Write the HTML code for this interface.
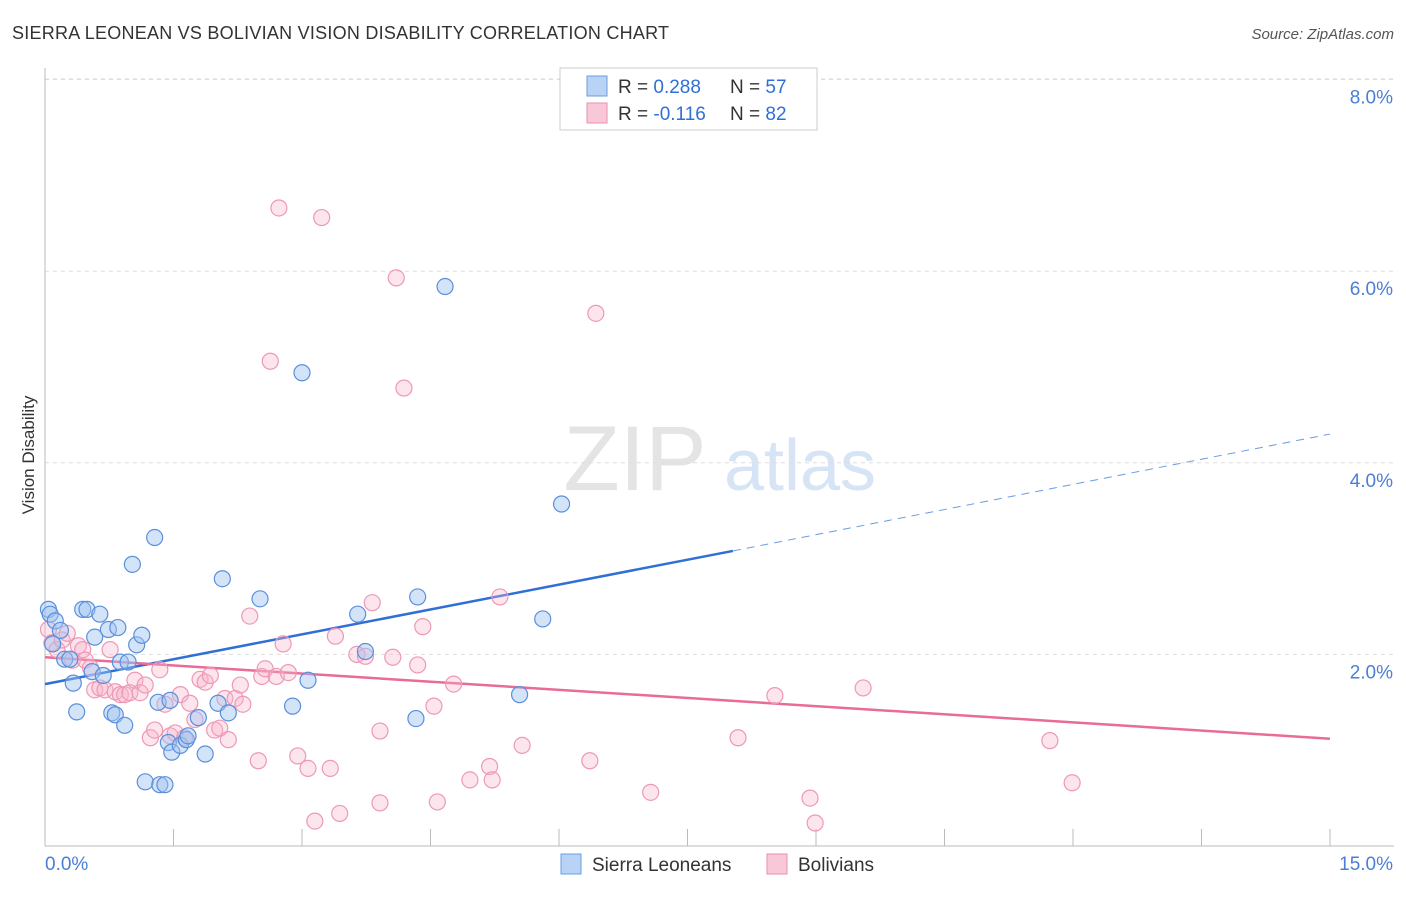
<!DOCTYPE html>
<html><head><meta charset="utf-8"><style>
body{margin:0;background:#fff;font-family:"Liberation Sans",sans-serif;}
svg text{font-family:"Liberation Sans",sans-serif;}
</style></head><body>
<svg id="chart" width="1406" height="892" viewBox="0 0 1406 892">
<text x="12" y="39" font-size="18" fill="#333" textLength="657" lengthAdjust="spacing">SIERRA LEONEAN VS BOLIVIAN VISION DISABILITY CORRELATION CHART</text>
<text x="1394" y="39" font-size="15" fill="#555" font-style="italic" text-anchor="end">Source: ZipAtlas.com</text>
<text x="34" y="455" font-size="17" fill="#333" text-anchor="middle" transform="rotate(-90 34 455)">Vision Disability</text>
<g><text x="635" y="490" font-size="92" fill="#e4e4e4" font-family="Liberation Serif" text-anchor="middle">ZIP</text><text x="800" y="490" font-size="72" fill="#d6e4f5" text-anchor="middle">atlas</text></g>
<g id="grid"></g><g id="axes"></g><g id="lines"></g><g id="pts"></g>
<g>
<rect x="560" y="68" width="257" height="62" fill="#fff" stroke="#ccc"/>
<rect x="587" y="76" width="20" height="20" fill="#b8d3f5" stroke="#6a9de0"/>
<rect x="587" y="103" width="20" height="20" fill="#f9c8d8" stroke="#ea8fb0"/>
<text x="618" y="93" font-size="19" fill="#333">R = <tspan fill="#2f6fd6">0.288</tspan></text>
<text x="730" y="93" font-size="19" fill="#333">N = <tspan fill="#2f6fd6">57</tspan></text>
<text x="618" y="120" font-size="19" fill="#333">R = <tspan fill="#2f6fd6">-0.116</tspan></text>
<text x="730" y="120" font-size="19" fill="#333">N = <tspan fill="#2f6fd6">82</tspan></text>
</g>
<g>
<rect x="561" y="854" width="20" height="20" fill="#b8d3f5" stroke="#6a9de0"/>
<text x="592" y="871" font-size="19" fill="#333">Sierra Leoneans</text>
<rect x="767" y="854" width="20" height="20" fill="#f9c8d8" stroke="#ea8fb0"/>
<text x="798" y="871" font-size="19" fill="#333">Bolivians</text>
</g>
</svg>
<script>
const xTicks=[0,15];
const yTicks=[2,4,6,8];
const blueX=[0.04,0.06,0.12,0.18,0.09,0.23,0.29,0.33,0.37,0.44,0.49,0.55,0.58,0.64,0.68,0.74,0.78,0.82,0.85,0.88,0.93,0.97,1.02,1.07,1.13,1.17,1.28,1.32,1.34,1.4,1.44,1.46,1.48,1.58,1.65,1.67,1.79,1.87,2.02,2.07,2.14,2.51,2.89,3.0,3.07,3.65,3.74,4.33,4.35,4.67,5.54,5.81,6.03];
const blueY=[2.47,2.42,2.35,2.25,2.11,1.95,1.95,1.7,1.4,2.47,2.47,1.82,2.18,2.42,1.78,2.26,1.39,1.37,2.28,1.92,1.26,1.92,2.94,2.1,2.2,0.67,3.22,1.5,0.64,0.64,1.08,1.52,0.98,1.05,1.11,1.15,1.34,0.96,1.49,2.79,1.39,2.58,1.46,4.94,1.73,2.42,2.03,1.33,2.6,5.84,1.58,2.37,3.57];
const pinkX=[0.04,0.08,0.14,0.2,0.26,0.32,0.39,0.44,0.47,0.53,0.58,0.64,0.7,0.76,0.82,0.88,0.93,0.99,1.05,1.11,1.17,1.23,1.28,1.34,1.4,1.46,1.52,1.58,1.63,1.69,1.75,1.81,1.87,1.93,1.98,2.04,2.1,2.14,2.22,2.28,2.31,2.39,2.49,2.53,2.57,2.63,2.7,2.73,2.78,2.84,2.95,3.07,3.15,3.23,3.33,3.39,3.44,3.64,3.74,3.82,3.91,3.91,4.06,4.1,4.19,4.35,4.41,4.54,4.58,4.77,4.96,5.19,5.22,5.31,5.57,6.36,6.43,7.07,8.09,8.52,8.93,8.99,9.55,11.73,11.99];
const pinkY=[2.26,2.12,2.05,2.15,2.22,1.94,2.09,2.05,1.94,1.86,1.63,1.65,1.63,2.05,1.61,1.58,1.58,1.6,1.73,1.6,1.68,1.13,1.21,1.84,1.48,1.15,1.18,1.58,1.13,1.49,1.32,1.74,1.71,1.78,1.21,1.23,1.54,1.11,1.54,1.68,1.48,2.4,0.89,1.77,1.85,5.06,1.77,6.66,2.11,1.81,0.94,0.81,0.26,6.56,0.81,2.19,0.34,2.0,1.98,2.54,1.2,0.45,1.97,5.93,4.78,1.89,2.29,1.46,0.46,1.69,0.69,0.83,0.69,2.6,1.05,0.89,5.56,0.56,1.13,1.57,0.5,0.24,1.65,1.1,0.66];
const blueTrend=[0,1.69,8.03,3.08,15,4.3];
const pinkTrend=[0,1.97,15,1.12];
const NS="http://www.w3.org/2000/svg";
const X0=45,X1=1330,Y0=846,PY=95.8;
function sx(v){return X0+(X1-X0)*v/15;}
function sy(v){return Y0-v*PY;}
function mk(tag,attrs,parent){const e=document.createElementNS(NS,tag);for(const k in attrs)e.setAttribute(k,attrs[k]);document.getElementById(parent).appendChild(e);return e;}
yTicks.forEach(t=>{
 const g=mk('line',{x1:45,x2:1394,y1:sy(t),y2:sy(t),stroke:'#ddd','stroke-dasharray':'4,4'},'grid');
 
 
 const l=mk('text',{x:1393,y:sy(t)+24,'font-size':19,fill:'#4a7fd4','text-anchor':'end'},'grid');
 l.textContent=t.toFixed(1)+'%';
 
 
});
mk('line',{x1:45,x2:1394,y1:79,y2:79,stroke:'#ddd','stroke-dasharray':'4,4'},'grid');
mk('line',{x1:45,x2:45,y1:68,y2:846,stroke:'#bbb'},'axes');
mk('line',{x1:45,x2:1394,y1:846,y2:846,stroke:'#bbb'},'axes');
for(let i=0;i<=10;i++){const x=sx(i*1.5);mk('line',{x1:x,x2:x,y1:829,y2:846,stroke:'#bbb'},'axes');}
xTicks.forEach((t,i)=>{
 const l=mk('text',{x:i==0?45:1393,y:870,'font-size':19,fill:'#4a7fd4','text-anchor':i==0?'start':'end'},'axes');
 l.textContent=t.toFixed(1)+'%';
 
 
});
const b1=mk('line',{x1:sx(blueTrend[0]),y1:sy(blueTrend[1]),x2:sx(blueTrend[2]),y2:sy(blueTrend[3]),stroke:'#2f6fd6','stroke-width':2.5},'lines');


const b2=mk('line',{x1:sx(blueTrend[2]),y1:sy(blueTrend[3]),x2:sx(blueTrend[4]),y2:sy(blueTrend[5]),stroke:'#6a9de0','stroke-width':1,'stroke-dasharray':'8,6'},'lines');


const p1=mk('line',{x1:sx(pinkTrend[0]),y1:sy(pinkTrend[1]),x2:sx(pinkTrend[2]),y2:sy(pinkTrend[3]),stroke:'#e86b98','stroke-width':2.5},'lines');


pinkX.forEach((v,i)=>{
 const c=mk('circle',{cx:sx(v),cy:sy(pinkY[i]),r:8,fill:'rgba(246,180,203,0.35)',stroke:'#ee98b6','stroke-width':1.2},'pts');
 
 
});
blueX.forEach((v,i)=>{
 const c=mk('circle',{cx:sx(v),cy:sy(blueY[i]),r:8,fill:'rgba(160,196,240,0.45)',stroke:'#5a8fdc','stroke-width':1.2},'pts');
 
 
});
</script>
</body></html>
